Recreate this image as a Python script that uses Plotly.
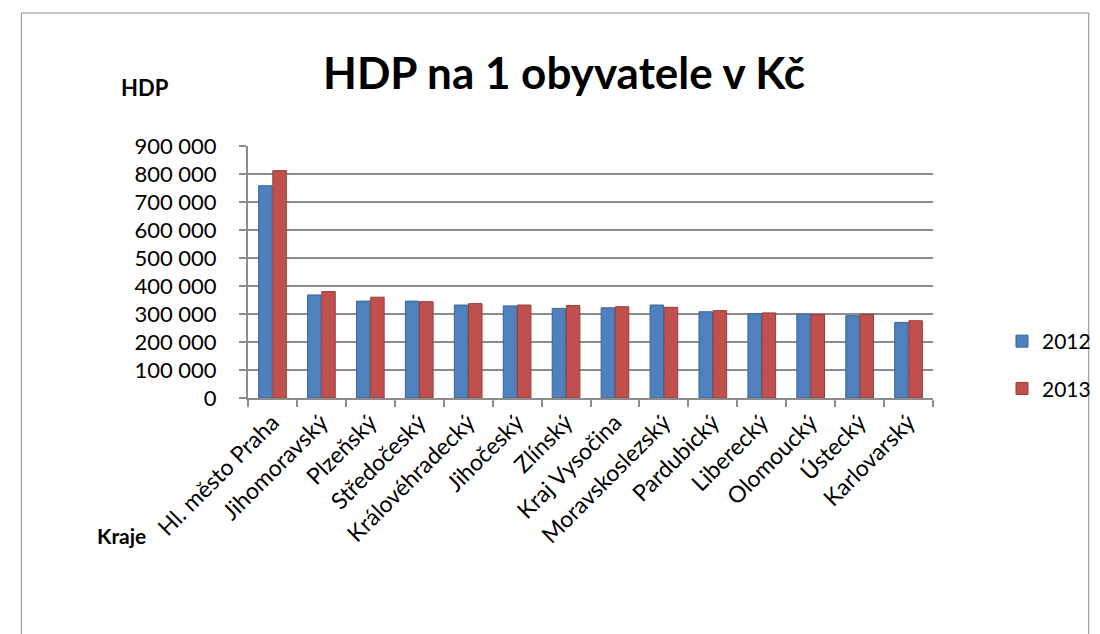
import plotly.graph_objects as go

kraje = ["Hl. město Praha", "Jihomoravský", "Plzeňský", "Středočeský", "Královéhradecký",
         "Jihočeský", "Zlínský", "Kraj Vysočina", "Moravskoslezský", "Pardubický",
         "Liberecký", "Olomoucký", "Ústecký", "Karlovarský"]
hdp_2012 = [758000, 368000, 346000, 346000, 332000, 329000, 320000, 322000, 332000, 308000,
            301000, 300000, 294000, 270000]
hdp_2013 = [812000, 380000, 360000, 344000, 337000, 332000, 330000, 326000, 324000, 312000,
            304000, 298000, 299000, 276000]
y_ticks = [0, 100000, 200000, 300000, 400000, 500000, 600000, 700000, 800000, 900000]

W, H = 1100, 634
L, R, T, B = 240, 165, 138, 244
pw, ph = W - L - R, H - T - B

def px(x):
    return (x - L) / pw

def py(y):
    return (H - B - y) / ph

fig = go.Figure()
fig.add_trace(go.Bar(name="2012", x=kraje, y=hdp_2012, legendgroup="a",
                     marker=dict(color="#4F81BD", line=dict(color="#3A6597", width=1))))
fig.add_trace(go.Bar(name="2013", x=kraje, y=hdp_2013, legendgroup="b",
                     marker=dict(color="#C0504D", line=dict(color="#963C3A", width=1))))

font = "Lato, 'Open Sans', sans-serif"
fig.update_layout(
    width=W, height=H,
    margin=dict(l=L, r=R, t=T, b=B),
    paper_bgcolor="white", plot_bgcolor="white",
    separators=", ",
    barmode="group", bargap=0.42, bargroupgap=0.05,
    font=dict(family=font, size=21, color="black"),
    showlegend=True,
    legend=dict(x=px(1005), y=py(313), xanchor="left", yanchor="top",
                font=dict(size=21), tracegroupgap=17, bgcolor="rgba(0,0,0,0)"),
    xaxis=dict(type="category", tickangle=-45, tickfont=dict(size=23),
               showline=True, linecolor="#8C8C8C", linewidth=2,
               ticks="outside", tickson="boundaries", ticklen=7, tickcolor="#8C8C8C",
               tickwidth=2, showgrid=False),
    yaxis=dict(range=[0, 900000], tickvals=y_ticks, tickformat=",d", tickfont=dict(size=22),
               showline=True, linecolor="#8C8C8C", linewidth=2,
               ticks="outside", ticklen=7, tickcolor="#8C8C8C", tickwidth=2,
               ticklabelstandoff=18,
               showgrid=True, gridcolor="#8C8C8C", gridwidth=2, zeroline=False),
    shapes=[dict(type="rect", xref="paper", yref="paper",
                 x0=px(10), x1=px(1093), y0=py(645), y1=py(5),
                 line=dict(color="#8C8C8C", width=1), layer="below")],
    annotations=[
        dict(text="<b>HDP na 1 obyvatele v Kč</b>", xref="paper", yref="paper",
             x=px(561), y=py(64), xanchor="center", yanchor="middle", showarrow=False,
             font=dict(size=44, family=font)),
        dict(text="<b>HDP</b>", xref="paper", yref="paper",
             x=px(135), y=py(80), xanchor="center", yanchor="middle", showarrow=False,
             font=dict(size=22, family=font)),
        dict(text="<b>Kraje</b>", xref="paper", yref="paper",
             x=px(112), y=py(527), xanchor="center", yanchor="middle", showarrow=False,
             font=dict(size=21, family=font)),
    ],
)

fig.write_html("out.html")
